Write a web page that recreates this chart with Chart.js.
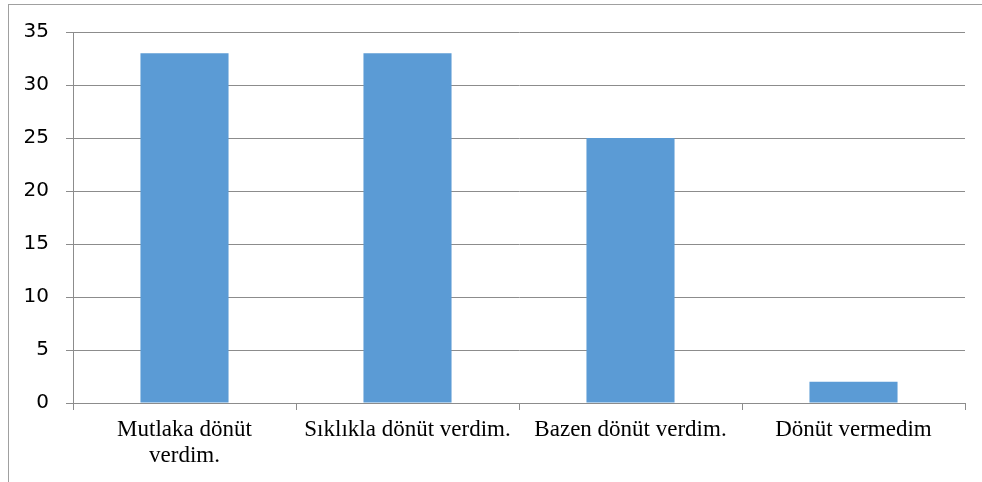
<!DOCTYPE html>
<html>
<head>
<meta charset="utf-8">
<script src="https://cdn.jsdelivr.net/npm/chart.js@4/dist/chart.umd.min.js"></script>
<style>
  html, body { margin: 0; padding: 0; background: #fff; overflow: hidden; }
  #frame { position: absolute; left: 8px; top: 4px; width: 1000px; height: 500px; border: 1px solid #a0a0a0; }
  #wrap { position: absolute; left: 0; top: 0; width: 982px; height: 482px; }
</style>
</head>
<body>
<div id="frame"></div>
<div id="wrap"><canvas id="feedbackChart"></canvas></div>
<script>
// categories and values
const categories = [
    ['Mutlaka dönüt', 'verdim.'],
    'Sıklıkla dönüt verdim.',
    'Bazen dönüt verdim.',
    'Dönüt vermedim'
];
const values = [33, 33, 25, 2];
const yTicks = [0, 5, 10, 15, 20, 25, 30, 35];

document.addEventListener("DOMContentLoaded", function() {
    const ctx = document.getElementById('feedbackChart').getContext('2d');

    new Chart(ctx, {
        type: 'bar',
        data: {
            labels: categories,
            datasets: [{
                data: values,
                backgroundColor: '#5B9BD5',
                borderWidth: 0,
                categoryPercentage: 0.395,
                barPercentage: 1
            }]
        },
        options: {
            responsive: true,
            maintainAspectRatio: false,
            animation: false,
            layout: { padding: { left: 0, top: 32, right: 17, bottom: 0 } },
            plugins: { legend: { display: false }, tooltip: { enabled: false } },
            scales: {
                x: {
                    grid: { offset: true, drawOnChartArea: false, drawTicks: true, tickLength: 7, color: '#8c8c8c' },
                    border: { color: '#8c8c8c' },
                    ticks: {
                        autoSkip: false, maxRotation: 0, minRotation: 0, padding: 7,
                        color: '#000',
                        font: { family: '"Liberation Serif", "DejaVu Serif", serif', size: 23, lineHeight: 1.13 }
                    },
                    afterFit: function(scale) { scale.height = 79; }
                },
                y: {
                    min: 0, max: 35,
                    afterBuildTicks: function(scale) { scale.ticks = yTicks.map(v => ({ value: v })); },
                    grid: { color: '#8c8c8c', tickLength: 7 },
                    border: { color: '#8c8c8c' },
                    ticks: {
                        padding: 17, color: '#000',
                        font: { family: '"DejaVu Sans", sans-serif', size: 20 }
                    },
                    afterFit: function(scale) { scale.width = 73; }
                }
            }
        }
    });
});
</script>
</body>
</html>
